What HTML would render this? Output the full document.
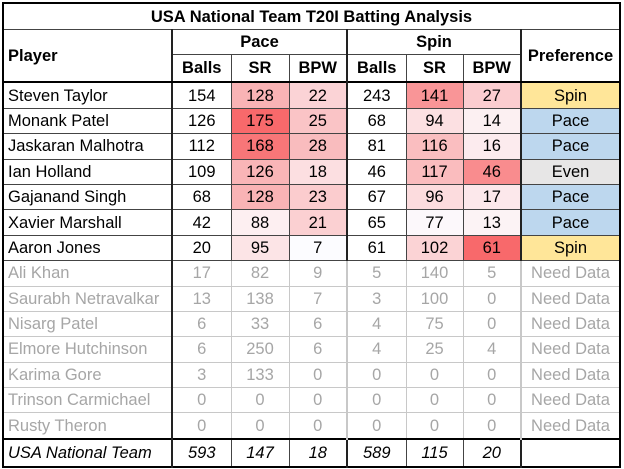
<!DOCTYPE html>
<html><head><meta charset="utf-8"><style>
html,body{margin:0;padding:0;background:#fff;width:624px;height:469px;overflow:hidden}
table{position:absolute;left:2px;top:2px;border-collapse:collapse;font-family:"Liberation Sans",Calibri,sans-serif;font-size:16.5px;color:#000;table-layout:fixed;border:2px solid #000}
td{border:1px solid #444;padding:0;text-align:center;height:24.4px;line-height:16px;white-space:nowrap;overflow:hidden}
td.n{text-align:left;padding-left:4px}
.h td{font-weight:bold}
.g td{color:#a6a6a6;border-color:#c8c8c8}
.g td.n{border-right:2px solid #222}
.tk{border-right:2px solid #222}
.sp{background:#FFE699}.pa{background:#BDD7EE}.ev{background:#E7E6E6}
.t td{font-style:italic;border-top:2px solid #000;height:26px}
</style></head><body>
<table>
<colgroup><col style="width:169px"><col style="width:59px"><col style="width:58px"><col style="width:58px"><col style="width:59px"><col style="width:57px"><col style="width:58px"><col style="width:99px"></colgroup>
<tr class="h"><td colspan="8" style="height:25px">USA National Team T20I Batting Analysis</td></tr>
<tr class="h"><td rowspan="2" class="n tk" style="border-bottom:2px solid #000">Player</td><td colspan="3" class="tk" style="height:24px">Pace</td><td colspan="3" class="tk">Spin</td><td rowspan="2" style="border-bottom:2px solid #000">Preference</td></tr>
<tr class="h" style="border-bottom:2px solid #000"><td style="height:26px">Balls</td><td>SR</td><td class="tk">BPW</td><td>Balls</td><td>SR</td><td class="tk">BPW</td></tr>
<tr><td class="n tk">Steven Taylor</td><td>154</td><td style="background:#F9B3B5">128</td><td class="tk" style="background:#FBD3D6">22</td><td>243</td><td style="background:#F99597">141</td><td class="tk" style="background:#FBCDD0">27</td><td class="sp">Spin</td></tr>
<tr><td class="n tk">Monank Patel</td><td>126</td><td style="background:#F8696B">175</td><td class="tk" style="background:#FAC4C6">25</td><td>68</td><td style="background:#FCE0E2">94</td><td class="tk" style="background:#FCF0F2">14</td><td class="pa">Pace</td></tr>
<tr><td class="n tk">Jaskaran Malhotra</td><td>112</td><td style="background:#F87678">168</td><td class="tk" style="background:#F9BCBE">28</td><td>81</td><td style="background:#FABEC0">116</td><td class="tk" style="background:#FCEBEE">16</td><td class="pa">Pace</td></tr>
<tr><td class="n tk">Ian Holland</td><td>109</td><td style="background:#F9B5B7">126</td><td class="tk" style="background:#FCDFE1">18</td><td>46</td><td style="background:#FABCBE">117</td><td class="tk" style="background:#F98C8E">46</td><td class="ev">Even</td></tr>
<tr><td class="n tk">Gajanand Singh</td><td>68</td><td style="background:#F9B3B5">128</td><td class="tk" style="background:#FBCCCE">23</td><td>67</td><td style="background:#FCDCDE">96</td><td class="tk" style="background:#FCE8EB">17</td><td class="pa">Pace</td></tr>
<tr><td class="n tk">Xavier Marshall</td><td>42</td><td style="background:#FDEFF1">88</td><td class="tk" style="background:#FBD0D2">21</td><td>65</td><td style="background:#FCF8FB">77</td><td class="tk" style="background:#FCF3F5">13</td><td class="pa">Pace</td></tr>
<tr><td class="n tk">Aaron Jones</td><td>20</td><td style="background:#FCE4E6">95</td><td class="tk" style="background:#FCFCFF">7</td><td>61</td><td style="background:#FBD3D5">102</td><td class="tk" style="background:#F8696B">61</td><td class="sp">Spin</td></tr>
<tr class="g"><td class="n">Ali Khan</td><td>17</td><td>82</td><td class="tk">9</td><td>5</td><td>140</td><td class="tk">5</td><td>Need Data</td></tr>
<tr class="g"><td class="n">Saurabh Netravalkar</td><td>13</td><td>138</td><td class="tk">7</td><td>3</td><td>100</td><td class="tk">0</td><td>Need Data</td></tr>
<tr class="g"><td class="n">Nisarg Patel</td><td>6</td><td>33</td><td class="tk">6</td><td>4</td><td>75</td><td class="tk">0</td><td>Need Data</td></tr>
<tr class="g"><td class="n">Elmore Hutchinson</td><td>6</td><td>250</td><td class="tk">6</td><td>4</td><td>25</td><td class="tk">4</td><td>Need Data</td></tr>
<tr class="g"><td class="n">Karima Gore</td><td>3</td><td>133</td><td class="tk">0</td><td>0</td><td>0</td><td class="tk">0</td><td>Need Data</td></tr>
<tr class="g"><td class="n">Trinson Carmichael</td><td>0</td><td>0</td><td class="tk">0</td><td>0</td><td>0</td><td class="tk">0</td><td>Need Data</td></tr>
<tr class="g"><td class="n">Rusty Theron</td><td>0</td><td>0</td><td class="tk">0</td><td>0</td><td>0</td><td class="tk">0</td><td>Need Data</td></tr>
<tr class="t"><td class="n tk">USA National Team</td><td>593</td><td>147</td><td class="tk">18</td><td>589</td><td>115</td><td class="tk">20</td><td></td></tr>
</table>
</body></html>
